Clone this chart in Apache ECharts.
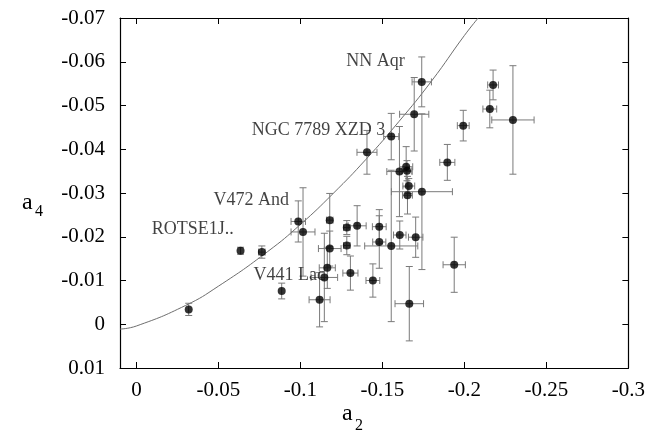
<!DOCTYPE html>
<html>
<head>
<meta charset="utf-8">
<script src="https://cdn.jsdelivr.net/npm/echarts@6/dist/echarts.min.js"></script>
<style>html,body{margin:0;padding:0;background:#fff}#c{width:648px;height:438px}</style>
</head>
<body>
<div id="c"></div>
<script>
// a2 values (x), a4 values (y), and their error half-widths
var a2 = [-0.0319,-0.0635,-0.0765,-0.0886,-0.0987,-0.1016,-0.1179,-0.1179,-0.1164,-0.1146,-0.1117,-0.1283,-0.1283,-0.1346,-0.1305,-0.1442,-0.1481,-0.1481,-0.1554,-0.1606,-0.1703,-0.1664,-0.1938,-0.1741,-0.1661,-0.1653,-0.1645,-0.1650,-0.1604,-0.1554,-0.1694,-0.1740,-0.1406,-0.2175,-0.2155,-0.2296,-0.1993,-0.1896];
var a4 = [-0.0034,-0.0168,-0.0165,-0.0076,-0.0235,-0.0211,-0.0238,-0.0173,-0.0129,-0.0107,-0.0056,-0.0221,-0.0180,-0.0225,-0.0117,-0.0100,-0.0223,-0.0188,-0.0179,-0.0204,-0.0199,-0.0047,-0.0136,-0.0303,-0.0316,-0.0295,-0.0360,-0.0351,-0.0349,-0.0429,-0.0480,-0.0554,-0.0393,-0.0547,-0.0492,-0.0467,-0.0454,-0.0370];
var a2Err = [0.0000,0.0000,0.0020,0.0000,0.0044,0.0073,0.0020,0.0069,0.0049,0.0081,0.0064,0.0020,0.0020,0.0055,0.0046,0.0042,0.0042,0.0040,0.0162,0.0038,0.0044,0.0087,0.0068,0.0186,0.0036,0.0030,0.0040,0.0030,0.0077,0.0046,0.0089,0.0059,0.0061,0.0033,0.0042,0.0129,0.0036,0.0046];
var a4Err = [0.0014,0.0008,0.0014,0.0018,0.0047,0.0101,0.0061,0.0040,0.0047,0.0101,0.0062,0.0016,0.0021,0.0046,0.0039,0.0038,0.0039,0.0060,0.0173,0.0032,0.0046,0.0085,0.0063,0.0178,0.0017,0.0043,0.0046,0.0023,0.0103,0.0053,0.0084,0.0057,0.0050,0.0034,0.0043,0.0124,0.0035,0.0041];

// fitted curve
var curveX = [0.01, 0.0, -0.03, -0.05, -0.08, -0.10, -0.12, -0.14, -0.16, -0.18, -0.20, -0.2084];
var curveY = [0.0011, 0.0004, -0.0043, -0.0087, -0.0166, -0.0228, -0.0299, -0.0377, -0.0463, -0.0556, -0.0660, -0.0700];

// star name annotations
var labelNames = ['NN Aqr', 'NGC 7789 XZD 3', 'V472 And', 'ROTSE1J..', 'V441 Lac'];
var labelX = [-0.1458, -0.1110, -0.0700, -0.0344, -0.0932];
var labelY = [-0.0602, -0.0443, -0.0284, -0.0218, -0.0112];

// axis ticks
var xMin = -0.3, xMax = 0.01, xStep = 0.05;
var yMin = -0.07, yMax = 0.01, yStep = 0.01;

var FONT = "'Liberation Serif', 'DejaVu Serif', serif";
var pts = a2.map(function (x, i) { return [x, a4[i], a2Err[i], a4Err[i]]; });
var curve = curveX.map(function (x, i) { return [x, curveY[i]]; });
var labs = labelNames.map(function (n, i) { return [labelX[i], labelY[i], n]; });

var chart = echarts.init(document.getElementById('c'), null, {renderer: 'canvas'});
var errColor = '#7a7a7a';
var cap = 3.5;

function errItem(params, api) {
  var x = api.value(0), y = api.value(1), xe = api.value(2), ye = api.value(3);
  var children = [];
  var st = {stroke: errColor, lineWidth: 1, fill: null};
  if (ye > 0) {
    var t = api.coord([x, y - ye]), b = api.coord([x, y + ye]);
    children.push({type: 'line', shape: {x1: t[0], y1: t[1], x2: b[0], y2: b[1]}, style: st});
    children.push({type: 'line', shape: {x1: t[0] - cap, y1: t[1], x2: t[0] + cap, y2: t[1]}, style: st});
    children.push({type: 'line', shape: {x1: b[0] - cap, y1: b[1], x2: b[0] + cap, y2: b[1]}, style: st});
  }
  if (xe > 0) {
    var l = api.coord([x - xe, y]), r = api.coord([x + xe, y]);
    children.push({type: 'line', shape: {x1: l[0], y1: l[1], x2: r[0], y2: r[1]}, style: st});
    children.push({type: 'line', shape: {x1: l[0], y1: l[1] - cap, x2: l[0], y2: l[1] + cap}, style: st});
    children.push({type: 'line', shape: {x1: r[0], y1: r[1] - cap, x2: r[0], y2: r[1] + cap}, style: st});
  }
  return {type: 'group', children: children};
}

var axisCommon = {
  type: 'value',
  axisLine: {show: true, onZero: false, lineStyle: {color: '#000', width: 1.2}},
  axisTick: {show: true, inside: true, length: 6, lineStyle: {color: '#000'}},
  splitLine: {show: false}
};

chart.setOption({
  animation: false,
  backgroundColor: '#fff',
  grid: {left: 120, right: 17, top: 18, bottom: 70},
  xAxis: [
    Object.assign({}, axisCommon, {
      position: 'bottom', min: xMin, max: xMax, interval: xStep, inverse: true,
      axisLabel: {show: true, showMaxLabel: false, margin: 12, color: '#000', fontFamily: FONT, fontSize: 21}
    }),
    Object.assign({}, axisCommon, {
      position: 'top', min: xMin, max: xMax, interval: xStep, inverse: true,
      axisLabel: {show: false}
    })
  ],
  yAxis: [
    Object.assign({}, axisCommon, {
      position: 'left', min: yMin, max: yMax, interval: yStep, inverse: true,
      axisLabel: {show: true, margin: 15, color: '#000', fontFamily: FONT, fontSize: 21}
    }),
    Object.assign({}, axisCommon, {
      position: 'right', min: yMin, max: yMax, interval: yStep, inverse: true,
      axisLabel: {show: false}
    })
  ],
  series: [
    {
      type: 'line', data: curve, smooth: true, showSymbol: false, symbol: 'none',
      lineStyle: {color: '#6e6e6e', width: 1}, z: 2, clip: true
    },
    {
      type: 'custom', data: pts, renderItem: errItem, z: 3,
      encode: {x: 0, y: 1}
    },
    {
      type: 'scatter', data: pts, symbol: 'circle', symbolSize: 8,
      itemStyle: {color: '#000'}, z: 4
    },
    {
      type: 'scatter', data: labs, symbolSize: 0, z: 5,
      label: {
        show: true, position: 'inside', color: '#111', fontFamily: FONT, fontSize: 18,
        formatter: function (p) { return p.data[2]; }
      }
    }
  ],
  graphic: [
    {type: 'text', left: 22, top: 191, style: {text: 'a', font: '24px ' + FONT, fill: '#000'}},
    {type: 'text', left: 35, top: 204, style: {text: '4', font: '16px ' + FONT, fill: '#000'}},
    {type: 'text', left: 342, top: 402, style: {text: 'a', font: '24px ' + FONT, fill: '#000'}},
    {type: 'text', left: 355, top: 418, style: {text: '2', font: '16px ' + FONT, fill: '#000'}}
  ]
});
</script>
</body>
</html>
